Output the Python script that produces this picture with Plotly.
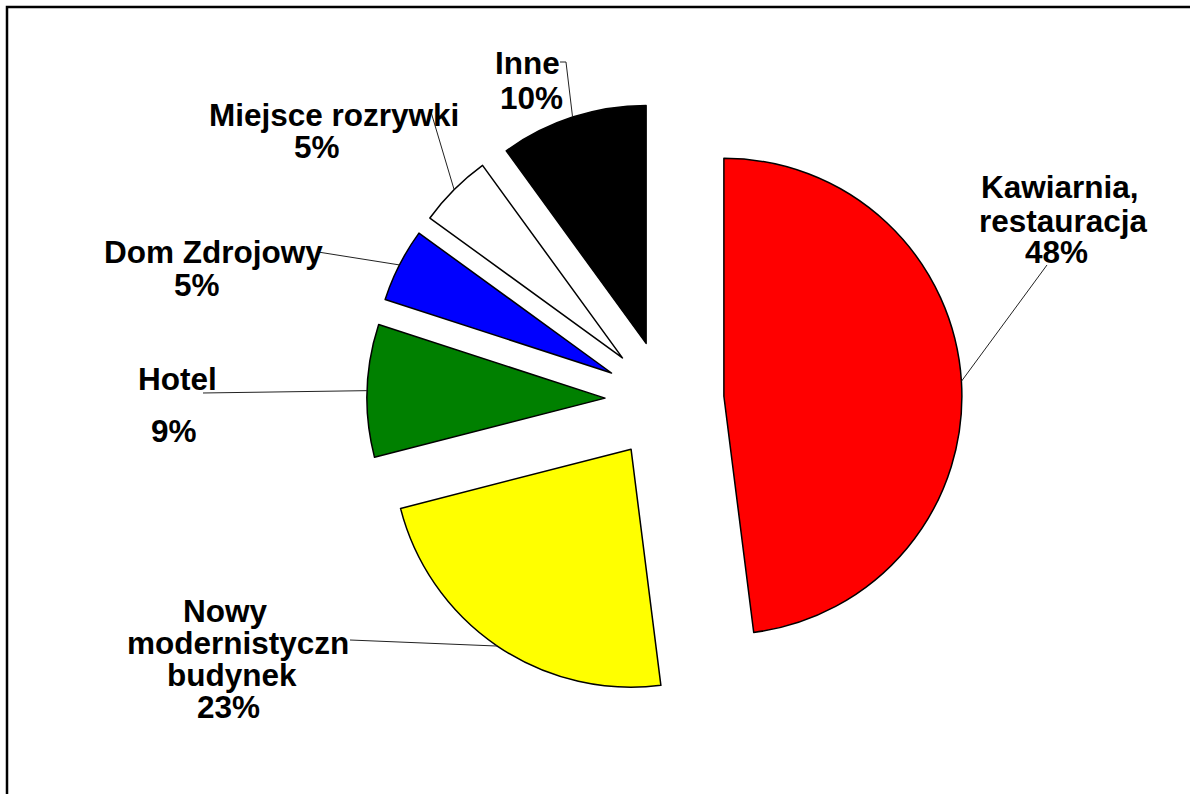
import math
import plotly.graph_objects as go

# dane wykresu
categories = ["Kawiarnia,\nrestauracja", "Nowy\nmodernistyczn\nbudynek", "Hotel",
              "Dom Zdrojowy", "Miejsce rozrywki", "Inne"]
values = [48, 23, 9, 5, 5, 10]
colors = ["#FF0000", "#FFFF00", "#008000", "#0000FF", "#FFFFFF", "#000000"]

W, H = 1190, 794
PULL = 0.25
CX, CY, R = 664.5, 400, 238          # srodek i promien kola (px)

# rozmieszczenie etykiet (px): linie tekstu (x, y srodka) i koniec linii odniesienia
label_lines = [
    [(1060, 188), (1063, 221), (1056, 253)],
    [(225, 611), (238, 643), (232, 675), (228, 707)],
    [(177, 380), (174, 431)],
    [(213, 252), (197, 285)],
    [(334, 115), (317, 147)],
    [(527, 64), (531, 99)],
]
leader_ends = [
    [(1047, 265)],
    [(350, 640)],
    [(203, 393)],
    [(318, 252)],
    [(431, 112)],
    [(566, 62), (560, 62)],
]


def px(x, y):
    return x / W, 1 - y / H


fig = go.Figure()
box = R * (1 + PULL)
fig.add_trace(go.Pie(
    labels=[c.replace("\n", " ") for c in categories],
    values=values,
    marker=dict(colors=colors, line=dict(color="black", width=1.5)),
    pull=[PULL] * len(values),
    sort=False,
    direction="clockwise",
    rotation=0,
    textinfo="none",
    showlegend=False,
    domain=dict(x=[(CX - box) / W, (CX + box) / W],
                y=[1 - (CY + box) / H, 1 - (CY - box) / H]),
))

total = sum(values)
start = 0.0
shapes = []
annotations = []
for i, v in enumerate(values):
    span = v / total * 360
    mid = math.radians(start + span / 2)
    start += span
    # punkt na srodku luku wysunietego wycinka
    sx = CX + R * (1 + PULL) * math.sin(mid)
    sy = CY - R * (1 + PULL) * math.cos(mid)
    pts = [(sx, sy)] + leader_ends[i]
    path = "M " + " L ".join(f"{px(x, y)[0]:.5f},{px(x, y)[1]:.5f}" for x, y in pts)
    shapes.append(dict(type="path", path=path, xref="paper", yref="paper",
                       line=dict(color="#222222", width=1)))

    lines = categories[i].split("\n") + [f"{v / total * 100:.0f}%"]
    for text, (lx, ly) in zip(lines, label_lines[i]):
        # ciasne pole tekstu: obcinamy tylko pusty odstep nad wersalikami
        x, y = px(lx, ly + 2)
        annotations.append(dict(text=f"<b>{text}</b>", x=x, y=y, xref="paper", yref="paper",
                                showarrow=False, xanchor="center", yanchor="middle",
                                height=31, valign="bottom",
                                font=dict(family="Liberation Sans, Arial", size=31.5, color="black")))

# ramka wykresu
shapes.append(dict(type="rect", xref="paper", yref="paper",
                   x0=7 / W, y0=-0.05, x1=1.05, y1=1 - 7 / H,
                   line=dict(color="black", width=2.5), fillcolor="rgba(0,0,0,0)"))

fig.update_layout(
    width=W, height=H,
    margin=dict(l=0, r=0, t=0, b=0),
    paper_bgcolor="white",
    plot_bgcolor="white",
    shapes=shapes,
    annotations=annotations,
)

fig.write_html("out.html", config={"displayModeBar": False},
               post_script="document.body.style.margin='0';")
